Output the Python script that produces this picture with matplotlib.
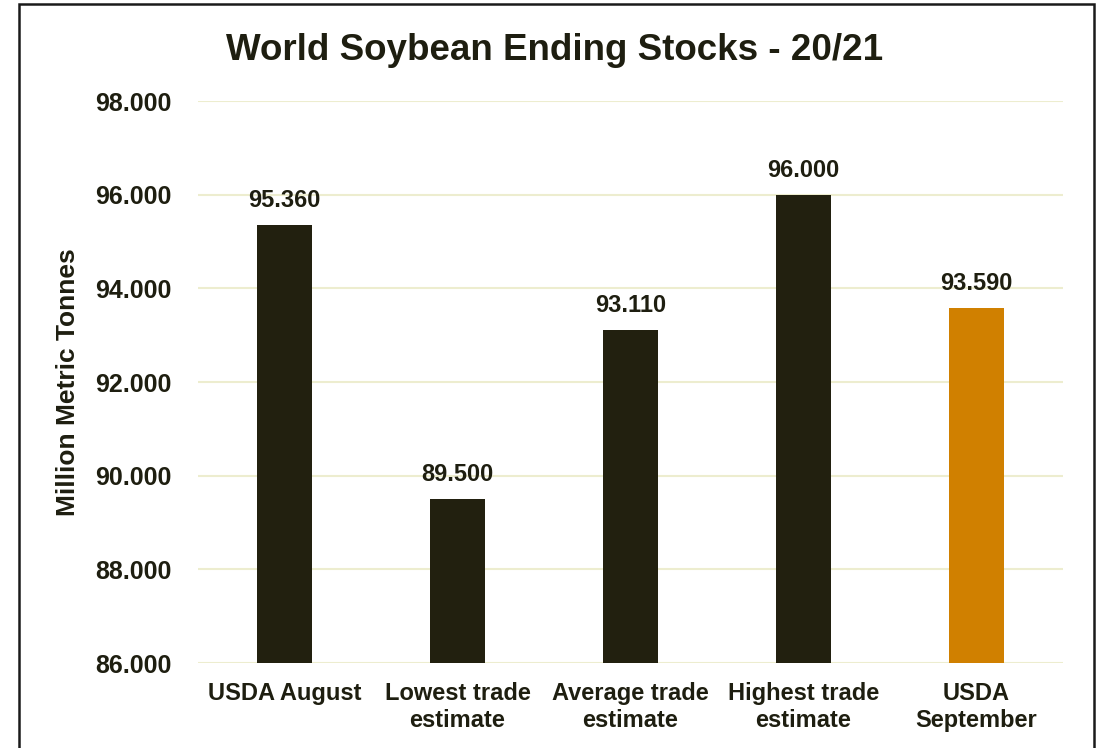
import matplotlib
matplotlib.use("Agg")
import matplotlib.pyplot as plt
from matplotlib.patches import Rectangle

categories = ["USDA August", "Lowest trade\nestimate", "Average trade\nestimate",
              "Highest trade\nestimate", "USDA\nSeptember"]
values = [95.360, 89.500, 93.110, 96.000, 93.590]
bar_colors = ["#22200F", "#22200F", "#22200F", "#22200F", "#D08000"]
yticks = [86, 88, 90, 92, 94, 96, 98]

text_color = "#1E1E10"
plt.rcParams['font.family'] = ['Liberation Sans', 'DejaVu Sans']

fig = plt.figure(figsize=(10.96, 7.48), dpi=100)
ax = fig.add_axes([198 / 1096, 1 - 663 / 748, 865 / 1096, 562 / 748])

x = range(len(categories))
bars = ax.bar(x, values, width=0.32, color=bar_colors, zorder=3)

ax.set_ylim(86, 98)
ax.set_xlim(-0.5, len(categories) - 0.5)
ax.set_yticks(yticks)
ax.set_yticklabels([f"{v:.3f}" for v in yticks], fontsize=18, fontweight='bold', color=text_color)
ax.set_xticks(list(x))
ax.set_xticklabels(categories, fontsize=17, fontweight='bold', color=text_color, linespacing=1.22)
ax.tick_params(axis='x', length=0, pad=14)
ax.tick_params(axis='y', length=0, pad=19)

ax.grid(axis='y', color='#EDEDCF', linewidth=1.5, zorder=0)
for s in ax.spines.values():
    s.set_visible(False)

for b, v in zip(bars, values):
    ax.text(b.get_x() + b.get_width() / 2, v + 0.38, f"{v:.3f}", ha='center', va='baseline',
            fontsize=17, fontweight='bold', color=text_color)

ax.set_ylabel("Million Metric Tonnes", fontsize=19, fontweight='bold', color=text_color)
ax.yaxis.label.set_va('center')
ax.yaxis.set_label_coords(-0.150, 0.5)

fig.text(555 / 1096, 1 - 60 / 748, "World Soybean Ending Stocks - 20/21", ha='center', va='baseline',
         fontsize=26.5, fontweight='bold', color=text_color)

# outer frame of the chart area
fig.patches.append(Rectangle((19 / 1096, -0.05), (1094 - 19) / 1096, 1.05 - 4 / 748,
                             transform=fig.transFigure, fill=False, edgecolor='#1a1a1a',
                             linewidth=1.8))

fig.savefig("out.png", dpi=100)
